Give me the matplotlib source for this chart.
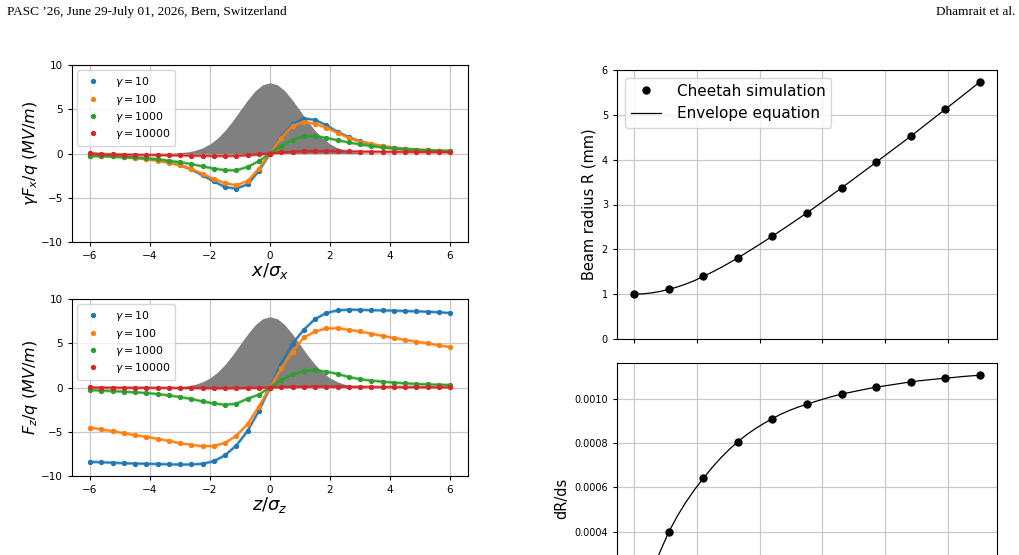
import numpy as np
import matplotlib
matplotlib.use("Agg")
import matplotlib.pyplot as plt

# ---- left panels: space-charge fields vs normalised coordinate (33 samples, -6..6)
xs = np.linspace(-6, 6, 33)
gammas = ["10", "100", "1000", "10000"]
colors = ["#1f77b4", "#ff7f0e", "#2ca02c", "#d62728"]

fx_g10 = [-0.24, -0.28, -0.33, -0.4, -0.49, -0.6, -0.76, -1.0, -1.32, -1.8, -2.47, -3.14, -3.8, -3.96, -3.5, -2.0, 0.0,
          1.9, 3.3, 3.95, 3.8, 3.2, 2.45, 1.85, 1.38, 1.05, 0.8, 0.62, 0.5, 0.41, 0.34, 0.28, 0.24]
fx_g100 = [-0.24, -0.28, -0.33, -0.4, -0.5, -0.62, -0.8, -1.02, -1.3, -1.74, -2.3, -2.88, -3.35, -3.58, -3.13, -1.7, 0.0,
           1.77, 3.13, 3.58, 3.36, 2.91, 2.34, 1.77, 1.32, 1.06, 0.83, 0.64, 0.53, 0.42, 0.36, 0.3, 0.26]
fx_g1000 = [-0.25, -0.28, -0.32, -0.38, -0.45, -0.54, -0.65, -0.8, -0.98, -1.2, -1.45, -1.7, -1.88, -1.9, -1.52, -0.87, 0.0,
            0.87, 1.55, 1.93, 1.96, 1.77, 1.5, 1.25, 1.02, 0.83, 0.68, 0.57, 0.47, 0.4, 0.35, 0.3, 0.27]
fx_g10000 = [0.05, -0.08, -0.1, -0.12, -0.14, -0.16, -0.18, -0.2, -0.22, -0.24, -0.26, -0.27, -0.28, -0.26, -0.2, -0.11, 0.0,
             0.12, 0.2, 0.25, 0.27, 0.27, 0.26, 0.24, 0.22, 0.2, 0.19, 0.18, 0.17, 0.16, 0.15, 0.14, 0.13]

fz_g10 = [-8.4, -8.45, -8.5, -8.55, -8.6, -8.62, -8.65, -8.68, -8.7, -8.7, -8.62, -8.34, -7.66, -6.56, -4.93, -2.66, 0.0,
          2.7, 4.95, 6.52, 7.73, 8.41, 8.71, 8.8, 8.77, 8.74, 8.71, 8.68, 8.64, 8.6, 8.56, 8.5, 8.42]
fz_g100 = [-4.52, -4.74, -4.93, -5.16, -5.39, -5.58, -5.8, -6.03, -6.3, -6.48, -6.63, -6.6, -6.26, -5.46, -4.14, -2.17, 0.0,
           2.17, 4.06, 5.65, 6.33, 6.67, 6.7, 6.52, 6.33, 6.07, 5.84, 5.6, 5.37, 5.18, 5.0, 4.76, 4.57]
fz_g1000 = [-0.28, -0.36, -0.4, -0.47, -0.55, -0.62, -0.74, -0.89, -1.08, -1.3, -1.57, -1.8, -1.95, -1.83, -1.27, -0.81, 0.0,
            0.85, 1.49, 1.87, 1.95, 1.8, 1.53, 1.19, 0.93, 0.78, 0.66, 0.55, 0.47, 0.4, 0.36, 0.32, 0.28]
fz_g10000 = [0.02, -0.02, -0.02, -0.03, -0.03, -0.04, -0.04, -0.05, -0.06, -0.07, -0.08, -0.09, -0.1, -0.09, -0.07, -0.04, 0.0,
             0.04, 0.07, 0.09, 0.1, 0.1, 0.09, 0.08, 0.07, 0.06, 0.05, 0.05, 0.04, 0.04, 0.03, 0.03, 0.03]

# bunch profile (grey), read at 0.25 steps from -4 to 4
prof_x = np.linspace(-4, 4, 33)
prof_half = [8.0, 7.76, 7.06, 6.02, 4.85, 3.66, 2.6, 1.73, 1.08, 0.64, 0.35, 0.18, 0.09, 0.04, 0.02, 0.01, 0.0]
prof_y = prof_half[::-1][:-1] + prof_half

# ---- right panels: beam radius and its slope along s (markers = simulation, line = envelope)
s_pts = [0.0, 0.551, 1.102, 1.653, 2.204, 2.755, 3.306, 3.857, 4.408, 4.959, 5.51]
R_pts = [1.0, 1.106, 1.396, 1.811, 2.294, 2.814, 3.37, 3.942, 4.521, 5.122, 5.731]
dR_pts = [0.0, 0.0004, 0.000641, 0.000806, 0.00091, 0.000974, 0.00102, 0.001051, 0.001075, 0.001092, 0.001105]
s_line = np.linspace(0, 5.51, 41)
R_line = [1.0, 1.007, 1.028, 1.061, 1.106, 1.162, 1.228, 1.305, 1.396, 1.49, 1.59, 1.698, 1.811, 1.928,
          2.049, 2.17, 2.294, 2.423, 2.552, 2.683, 2.814, 2.951, 3.09, 3.23, 3.37, 3.512, 3.655, 3.798,
          3.942, 4.087, 4.232, 4.376, 4.521, 4.671, 4.821, 4.972, 5.122, 5.274, 5.426, 5.578, 5.731]
dR_line = [0.0, 0.000112, 0.000216, 0.000312, 0.0004, 0.000472, 0.000535, 0.000591, 0.000641, 0.000689,
           0.000732, 0.000771, 0.000806, 0.000837, 0.000864, 0.000888, 0.00091, 0.00093, 0.000947, 0.000962,
           0.000974, 0.000987, 0.000999, 0.00101, 0.00102, 0.001028, 0.001036, 0.001044, 0.001051, 0.001057,
           0.001063, 0.001069, 0.001075, 0.00108, 0.001084, 0.001088, 0.001092, 0.001095, 0.001099, 0.001102,
           0.001105]

W, H = 1020, 555
fig = plt.figure(figsize=(W / 100, H / 100), dpi=100)

def box(x0, y_top, x1, y_bot):
    return [x0 / W, (H - y_bot) / H, (x1 - x0) / W, (y_bot - y_top) / H]

def field_panel(rect, series, ylabel, xlabel):
    ax = fig.add_axes(rect)
    ax.set_axisbelow(True)
    ax.grid(True, color="#c8c8c8", lw=0.9)
    ax.fill_between(prof_x, 0, prof_y, color="grey", lw=0)
    for y, c, g in zip(series, colors, gammas):
        ax.plot(xs, y, color=c, lw=2.4, alpha=0.45)
        ax.plot(xs, y, color=c, lw=1.2)
        ax.plot(xs, y, "o", color=c, ms=2.8, ls="none", label=r"$\gamma = %s$" % g)
    ax.set_ylim(-10, 10)
    ax.set_yticks([-10, -5, 0, 5, 10])
    ax.set_xticks([-6, -4, -2, 0, 2, 4, 6])
    ax.tick_params(labelsize=7.5, length=3)
    ax.set_ylabel(ylabel, fontsize=11.5, labelpad=1)
    ax.set_xlabel(xlabel, fontsize=13, labelpad=0)
    ax.legend(loc="upper left", fontsize=7.8, handletextpad=1.0, borderpad=0.45, labelspacing=0.3)
    return ax

field_panel(box(72, 65, 468, 242), [fx_g10, fx_g100, fx_g1000, fx_g10000],
            r"$\gamma F_x / q\ (MV/m)$", r"$x/\sigma_x$")
field_panel(box(72, 299, 468, 476), [fz_g10, fz_g100, fz_g1000, fz_g10000],
            r"$F_z / q\ (MV/m)$", r"$z/\sigma_z$")

axR = fig.add_axes(box(617, 70, 997, 339))
axR.grid(True, color="#c8c8c8", lw=0.9)
axR.plot(s_pts, R_pts, "o", color="black", ms=5, label="Cheetah simulation")
axR.plot(s_line, R_line, color="black", lw=0.9, label="Envelope equation")
axR.set_ylim(0, 6)
axR.set_xticks([0, 1, 2, 3, 4, 5])
axR.tick_params(labelsize=7, labelbottom=False, length=3)
axR.set_ylabel("Beam radius R (mm)", fontsize=10.5)
axR.legend(loc="upper left", fontsize=11, handletextpad=1.0, borderpad=0.4)

# lower panel runs past the bottom of the page crop
axD = fig.add_axes(box(617, 363, 997, 633), sharex=axR)
axD.grid(True, color="#c8c8c8", lw=0.9)
axD.plot(s_pts, dR_pts, "o", color="black", ms=5)
axD.plot(s_line, dR_line, color="black", lw=0.9)
axD.set_ylim(-0.0000553, 0.00116)
axD.set_yticks([0.0004, 0.0006, 0.0008, 0.0010])
axD.yaxis.set_major_formatter(matplotlib.ticker.FormatStrFormatter("%.4f"))
axD.tick_params(labelsize=7, length=3, labelbottom=False)
axD.set_ylabel("dR/ds", fontsize=10.5)

# page running header
fig.text(7 / W, 1 - 12 / H, "PASC \u201926, June 29-July 01, 2026, Bern, Switzerland",
         fontsize=9.5, family="Liberation Serif", va="center", ha="left")
fig.text(1015 / W, 1 - 12 / H, "Dhamrait et al.", fontsize=9.5, family="Liberation Serif",
         va="center", ha="right")

fig.savefig("out.png", dpi=100)
